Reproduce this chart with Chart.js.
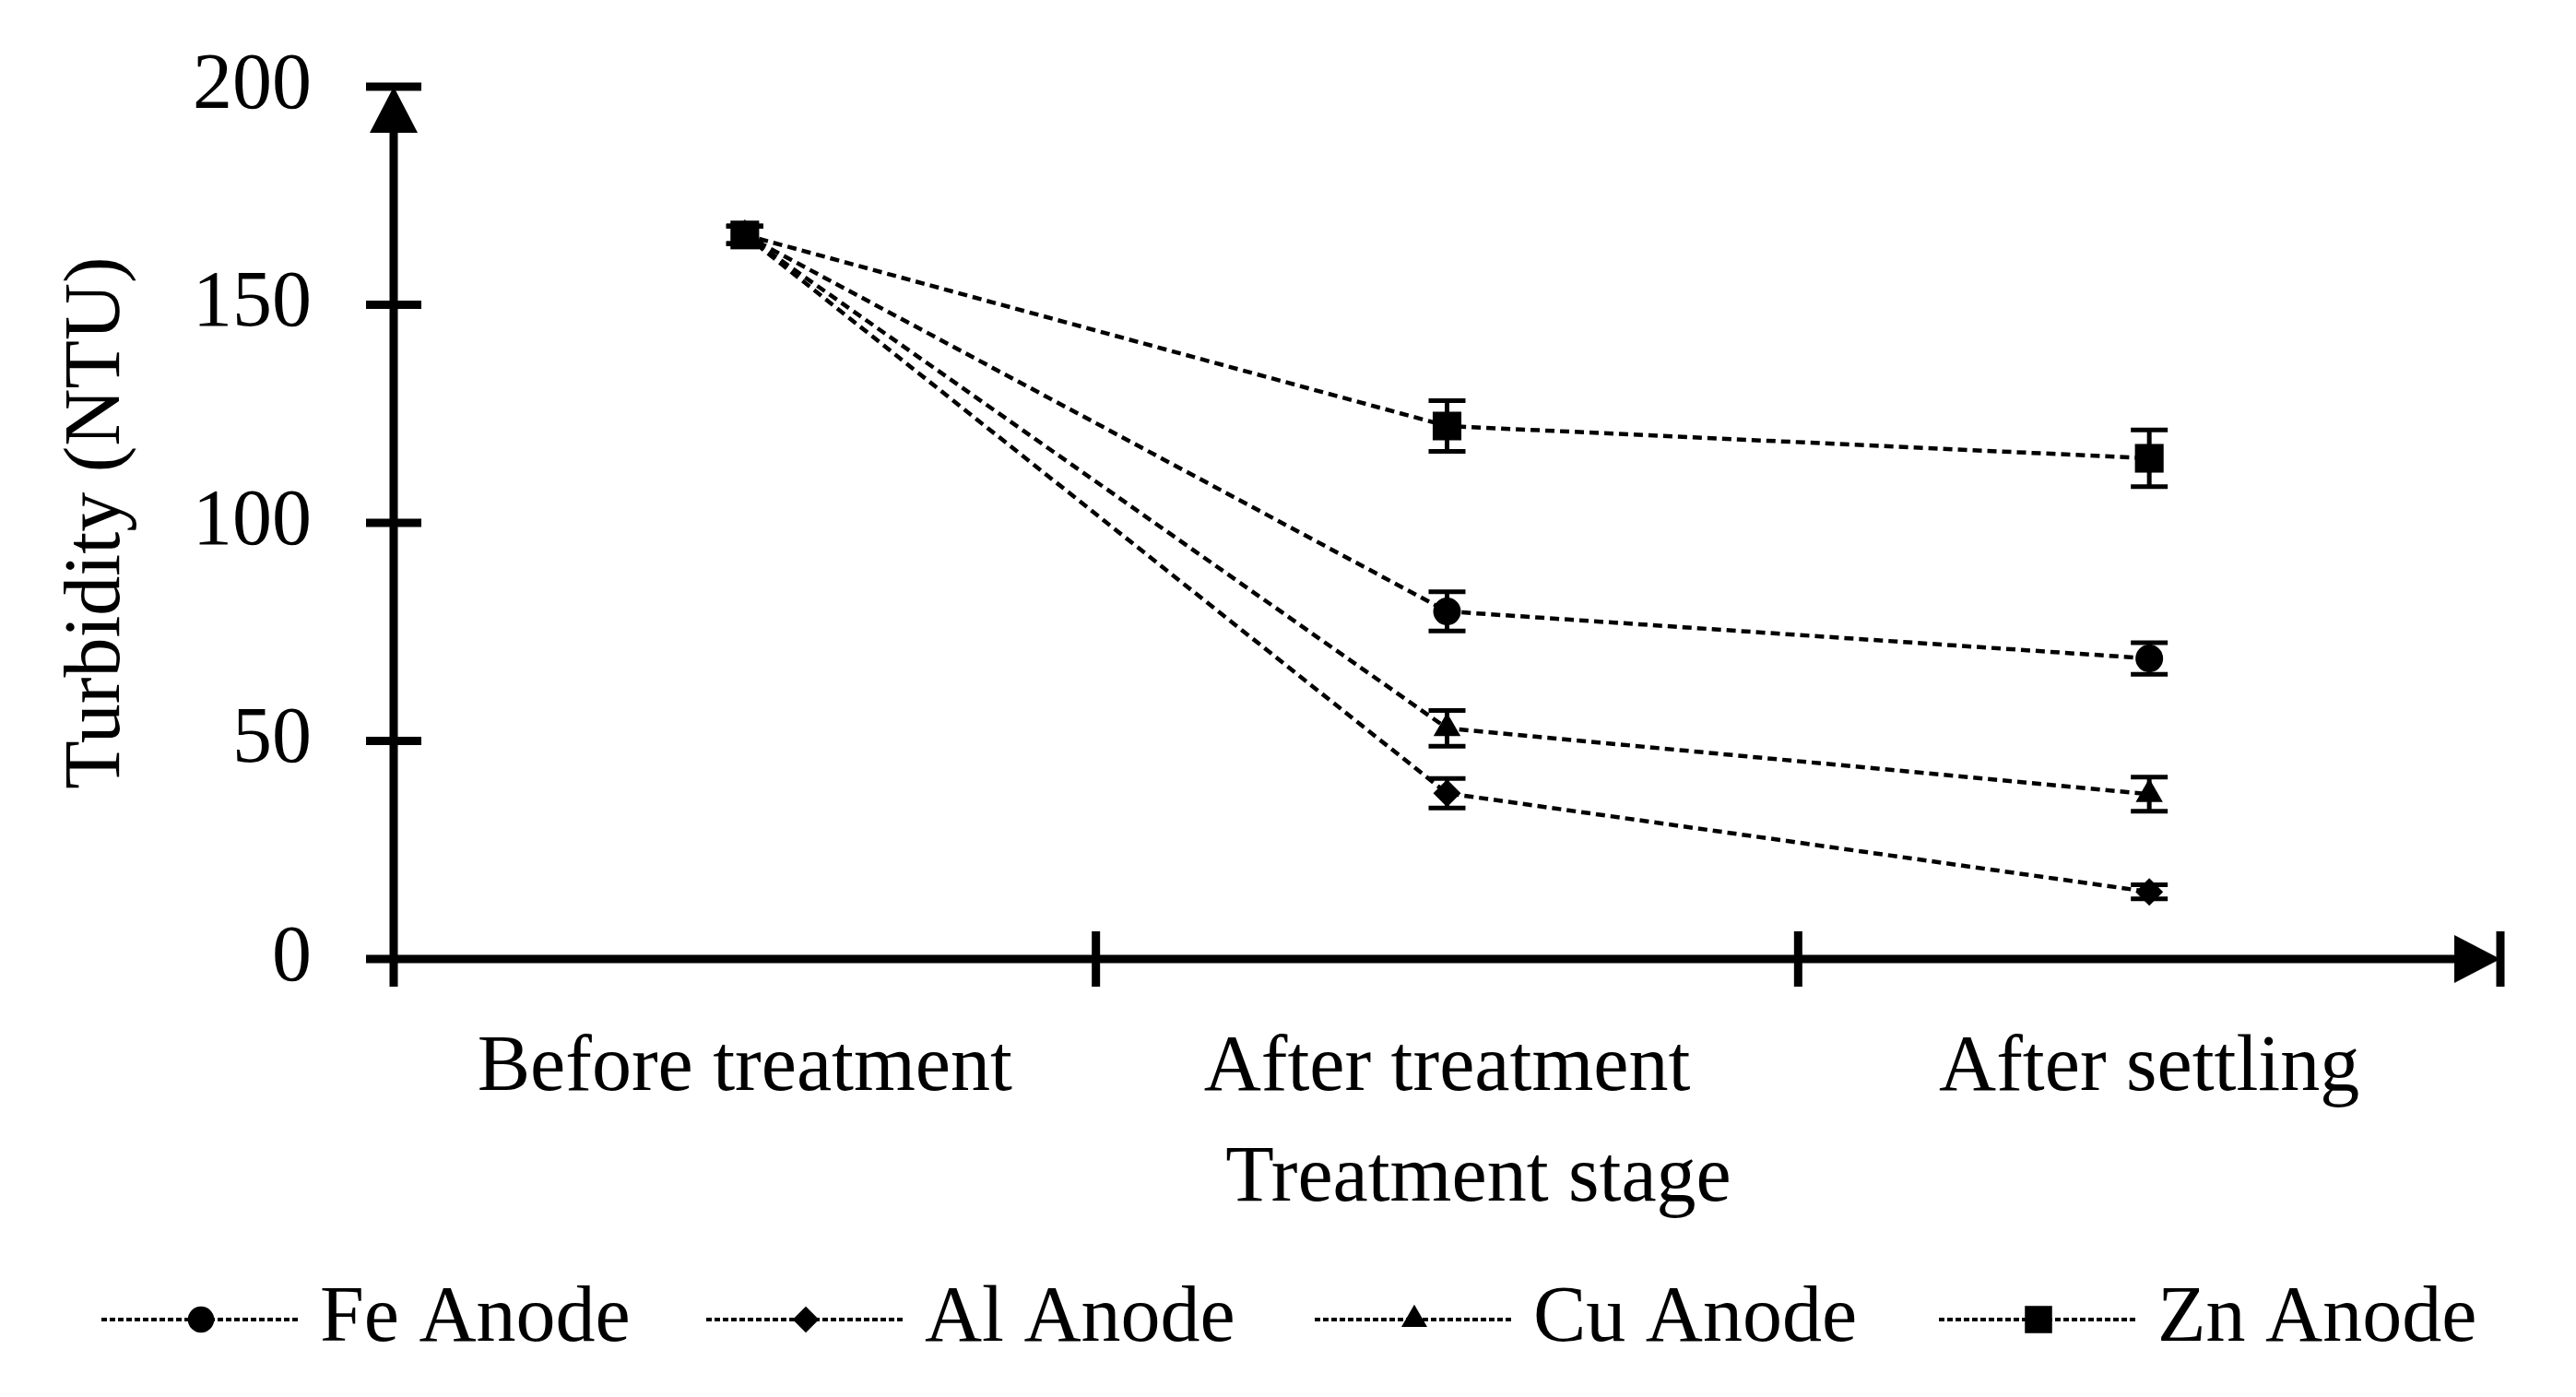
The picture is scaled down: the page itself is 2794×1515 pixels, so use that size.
<!DOCTYPE html>
<html>
<head>
<meta charset="utf-8">
<title>Turbidity by treatment stage</title>
<script src="https://cdn.jsdelivr.net/npm/chart.js@4.4.1/dist/chart.umd.min.js"></script>
<style>
  html, body { margin: 0; padding: 0; background: #fff; }
  #wrap { width: 2794px; height: 1515px; }
</style>
</head>
<body>
<div id="wrap"><canvas id="chart" width="2794" height="1515"></canvas></div>
<script>
// data
const stages = ['Before treatment', 'After treatment', 'After settling'];
const feValues = [166, 79.7, 68.9];
const feErrors = [2, 4.5, 3.6];
const alValues = [166, 38.0, 15.4];
const alErrors = [2, 3.4, 1.6];
const cuValues = [166, 52.9, 37.8];
const cuErrors = [2, 4.1, 3.9];
const znValues = [166, 122.2, 114.8];
const znErrors = [2, 5.8, 6.5];
const yMin = 0, yMax = 200, yStep = 50;
const xTitle = 'Treatment stage';
const yTitle = 'Turbidity (NTU)';

const FONT = '"Liberation Serif", "Times New Roman", serif';
const FSIZE = 86;

// little helper so the legend markers match the plot markers
function drawMarker(ctx, style, x, y, r) {
    ctx.beginPath();
    if (style === 'circle') {
        ctx.arc(x, y, r, 0, Math.PI * 2);
    } else if (style === 'rectRot') {
        ctx.moveTo(x, y - r);
        ctx.lineTo(x + r, y);
        ctx.lineTo(x, y + r);
        ctx.lineTo(x - r, y);
    } else if (style === 'triangle') {
        const s = Math.sin(Math.PI * 2 / 3) * r;
        ctx.moveTo(x, y - r);
        ctx.lineTo(x + s, y + r / 2);
        ctx.lineTo(x - s, y + r / 2);
    } else {
        const s = Math.SQRT1_2 * r;
        ctx.rect(x - s, y - s, 2 * s, 2 * s);
    }
    ctx.closePath();
    ctx.fill();
}

function makeSet(label, values, errors, style, radius, order) {
    return {
        label: label,
        data: values,
        errors: errors,
        borderColor: '#000',
        backgroundColor: '#000',
        borderWidth: 4.5,
        borderDash: [10, 6],
        pointStyle: style,
        pointRadius: radius,
        pointHoverRadius: radius,
        pointBorderWidth: 0,
        tension: 0,
        order: order
    };
}

// error bars
const errorBars = {
    id: 'errorBars',
    afterDatasetsDraw(chart) {
        const ctx = chart.ctx;
        const yScale = chart.scales.y;
        ctx.save();
        ctx.strokeStyle = '#000';
        ctx.lineWidth = 5;
        chart.data.datasets.forEach((ds, i) => {
            const meta = chart.getDatasetMeta(i);
            meta.data.forEach((pt, j) => {
                const top = yScale.getPixelForValue(ds.data[j] + ds.errors[j]);
                const bot = yScale.getPixelForValue(ds.data[j] - ds.errors[j]);
                ctx.beginPath();
                ctx.moveTo(pt.x, top);
                ctx.lineTo(pt.x, bot);
                ctx.moveTo(pt.x - 20, top);
                ctx.lineTo(pt.x + 20, top);
                ctx.moveTo(pt.x - 20, bot);
                ctx.lineTo(pt.x + 20, bot);
                ctx.stroke();
            });
        });
        ctx.restore();
    }
};

// arrowed axes with crossing ticks, x title and the legend
const arrowAxes = {
    id: 'arrowAxes',
    afterDraw(chart) {
        const ctx = chart.ctx;
        const a = chart.chartArea;
        const x = chart.scales.x, y = chart.scales.y;
        const half = 30, head = 50, hw = 26;
        ctx.save();
        ctx.strokeStyle = '#000';
        ctx.fillStyle = '#000';
        ctx.lineWidth = 9;
        ctx.beginPath();
        ctx.moveTo(a.left, a.bottom + half);
        ctx.lineTo(a.left, a.top + head);
        ctx.moveTo(a.left - half, a.bottom);
        ctx.lineTo(a.right - head, a.bottom);
        y.ticks.forEach(t => {
            const py = y.getPixelForValue(t.value);
            ctx.moveTo(a.left - half, py);
            ctx.lineTo(a.left + half, py);
        });
        for (let i = 1; i <= stages.length; i++) {
            const px = x.getPixelForValue(i - 0.5);
            ctx.moveTo(px, a.bottom - half);
            ctx.lineTo(px, a.bottom + half);
        }
        ctx.stroke();

        ctx.beginPath();
        ctx.moveTo(a.left, a.top);
        ctx.lineTo(a.left - hw, a.top + head);
        ctx.lineTo(a.left + hw, a.top + head);
        ctx.closePath();
        ctx.moveTo(a.right, a.bottom);
        ctx.lineTo(a.right - head, a.bottom - hw);
        ctx.lineTo(a.right - head, a.bottom + hw);
        ctx.closePath();
        ctx.fill();

        // x title
        ctx.font = FSIZE + 'px ' + FONT;
        ctx.textAlign = 'center';
        ctx.textBaseline = 'middle';
        ctx.fillText(xTitle, (a.left + a.right) / 2 + 34, a.bottom + 239);

        // legend: dotted line with marker, then label
        const sets = chart.data.datasets;
        const legY = 1431, lineLen = 216, textGap = 21;
        const starts = [110, 766, 1426, 2103];
        ctx.textAlign = 'left';
        sets.forEach((d, i) => {
            const cx = starts[i];
            ctx.save();
            ctx.lineWidth = 4;
            ctx.setLineDash([6, 3]);
            ctx.beginPath();
            ctx.moveTo(cx, legY);
            ctx.lineTo(cx + lineLen, legY);
            ctx.stroke();
            ctx.restore();
            drawMarker(ctx, d.pointStyle, cx + lineLen / 2, legY, d.pointRadius * 0.95);
            ctx.fillText(d.label, cx + lineLen + textGap, legY);
        });
        ctx.restore();
    }
};

new Chart(document.getElementById('chart'), {
    type: 'line',
    data: {
        labels: stages,
        datasets: [
            makeSet('Fe Anode', feValues, feErrors, 'circle', 15, 4),
            makeSet('Al Anode', alValues, alErrors, 'rectRot', 15, 3),
            makeSet('Cu Anode', cuValues, cuErrors, 'triangle', 17, 2),
            makeSet('Zn Anode', znValues, znErrors, 'rect', 22, 1)
        ]
    },
    options: {
        responsive: false,
        animation: false,
        devicePixelRatio: 1,
        layout: { padding: { left: 55, top: 94, right: 82, bottom: 275 } },
        plugins: {
            legend: { display: false },
            tooltip: { enabled: false }
        },
        scales: {
            x: {
                type: 'category',
                offset: true,
                grid: { display: false, drawTicks: false },
                border: { display: false },
                ticks: {
                    color: '#000',
                    padding: 68,
                    maxRotation: 0,
                    font: { family: FONT, size: FSIZE }
                },
                afterFit(scale) { scale.height = 200; }
            },
            y: {
                min: yMin,
                max: yMax,
                grid: { display: false, drawTicks: false },
                border: { display: false },
                ticks: {
                    stepSize: yStep,
                    color: '#000',
                    padding: 89,
                    font: { family: FONT, size: FSIZE }
                },
                title: {
                    display: true,
                    text: yTitle,
                    color: '#000',
                    padding: 0,
                    font: { family: FONT, size: FSIZE }
                },
                afterFit(scale) {
                    scale.width = 372;
                    scale.paddingTop = 0;
                    scale.paddingBottom = 0;
                }
            }
        }
    },
    plugins: [errorBars, arrowAxes]
});
</script>
</body>
</html>
